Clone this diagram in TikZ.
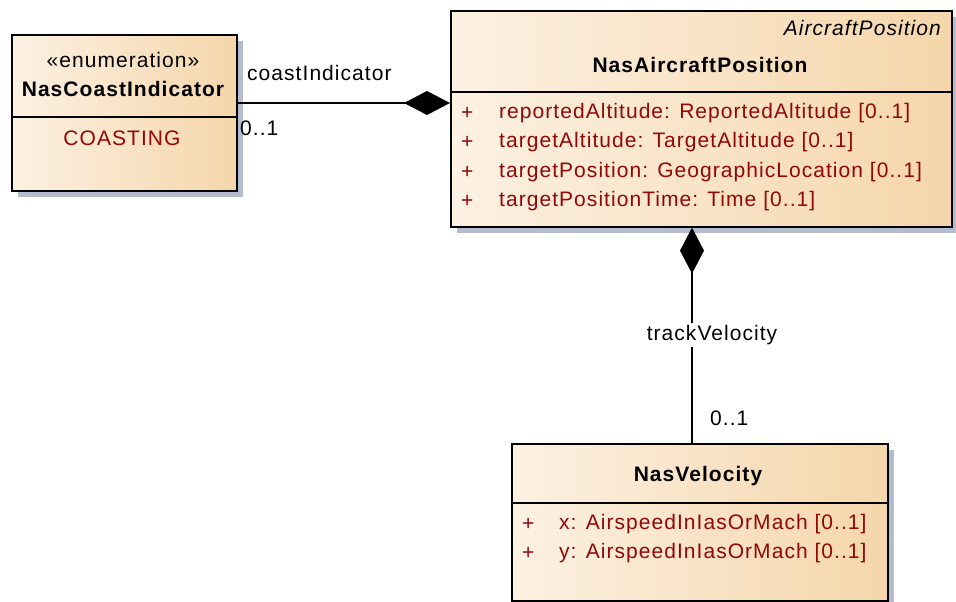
\documentclass[tikz,border=0pt]{standalone}
\usepackage{fontspec}
\setmainfont{Liberation Sans}[LetterSpace=5]
\usetikzlibrary{arrows.meta,shadows}
\definecolor{boxleft}{RGB}{252,241,227}
\definecolor{boxright}{RGB}{245,214,170}
\definecolor{shadowgray}{RGB}{180,188,206}
\definecolor{attrred}{RGB}{145,8,8}
\tikzset{
  umlclass/.style={draw=black, line width=1.6pt, left color=boxleft, right color=boxright,
    anchor=north west, inner sep=0pt,
    drop shadow={shadow xshift=6pt, shadow yshift=-6pt, fill=shadowgray, opacity=1}},
  lbl/.style={inner sep=0pt, font=\fontsize{21pt}{25pt}\selectfont},
  title/.style={lbl, font=\fontsize{21pt}{25pt}\selectfont\bfseries},
  attr/.style={lbl, anchor=west, text=attrred},
  comp/.style={line width=1.6pt, -{Diamond[length=46pt,width=24pt]}}
}
\begin{document}
\begin{tikzpicture}[x=1pt,y=-1pt]
        \useasboundingbox (0,0) rectangle (956,602);
        % class boxes
        \node[umlclass, minimum width=225pt, minimum height=156pt] (coast) at (11,34) {};
        \node[umlclass, minimum width=501pt, minimum height=216pt] (pos) at (450,10) {};
        \node[umlclass, minimum width=376pt, minimum height=157pt] (vel) at (511,443) {};
        \draw[line width=1.6pt] (coast.west |- 0,117) -- (coast.east |- 0,117);
        \draw[line width=1.6pt] (pos.west |- 0,92) -- (pos.east |- 0,92);
        \draw[line width=1.6pt] (vel.west |- 0,503) -- (vel.east |- 0,503);
        % NasCoastIndicator
        \node[lbl] (coastStereo) at (123,60) {«enumeration»};
        \node[title] (coastName) at (123,89) {NasCoastIndicator};
        \node[lbl, text=attrred] (coastLit) at (122,138) {COASTING};
        % NasAircraftPosition
        \node[lbl, anchor=east, font=\fontsize{21pt}{25pt}\selectfont\itshape] (posParent) at (941,28) {AircraftPosition};
        \node[title] (posName) at (700,65) {NasAircraftPosition};
        \node[attr] (posPlus1) at (461,113) {+};
        \node[attr] (posAttr1) at (499,113) {reportedAltitude: ReportedAltitude [0..1]};
        \node[attr] (posPlus2) at (461,142) {+};
        \node[attr] (posAttr2) at (499,142) {targetAltitude: TargetAltitude [0..1]};
        \node[attr] (posPlus3) at (461,172) {+};
        \node[attr] (posAttr3) at (499,172) {targetPosition: GeographicLocation [0..1]};
        \node[attr] (posPlus4) at (461,201) {+};
        \node[attr] (posAttr4) at (499,201) {targetPositionTime: Time [0..1]};
        % NasVelocity
        \node[title] (velName) at (698,476) {NasVelocity};
        \node[attr] (velPlus1) at (522,524) {+};
        \node[attr] (velAttr1) at (559,524) {x: AirspeedInIasOrMach [0..1]};
        \node[attr] (velPlus2) at (522,553) {+};
        \node[attr] (velAttr2) at (559,553) {y: AirspeedInIasOrMach [0..1]};
        % associations
        \draw[comp] (coast.east |- 0,103) -- (pos.west |- 0,103);
        \draw[comp] (vel.north -| 692,0) -- (pos.south -| 692,0);
        \node[lbl, anchor=west] (coastRole) at (247,73) {coastIndicator};
        \node[lbl, anchor=west] (coastMult) at (240,128) {0..1};
        \node[lbl, fill=white, inner ysep=2pt] (velRole) at (712,335) {trackVelocity};
        \node[lbl, anchor=west] (velMult) at (710,418) {0..1};
\end{tikzpicture}
\end{document}
